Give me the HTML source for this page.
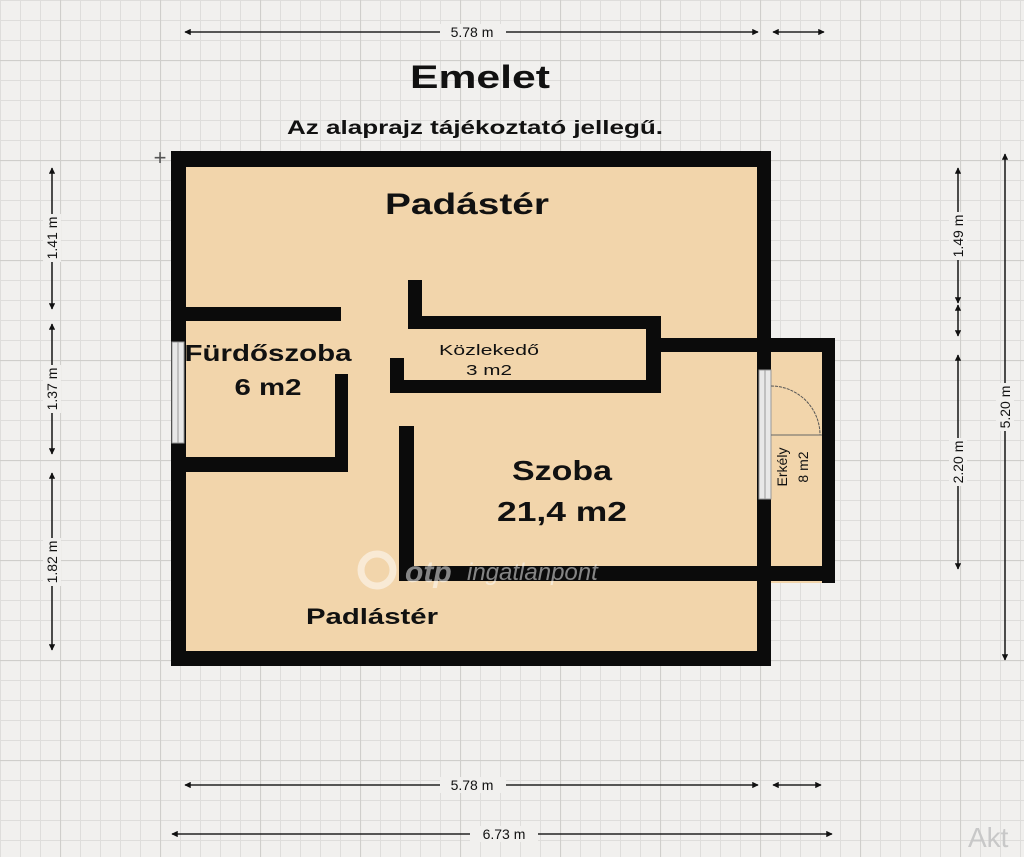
<!DOCTYPE html>
<html><head><meta charset="utf-8"><style>
html,body{margin:0;padding:0;background:#f1f0ee;}
svg{display:block;font-family:"Liberation Sans",Arial,sans-serif;}
</style></head><body>
<svg width="1024" height="857" viewBox="0 0 1024 857" xmlns="http://www.w3.org/2000/svg">
<defs>
<pattern id="mn" width="20" height="20" patternUnits="userSpaceOnUse" x="0" y="0">
<path d="M0 0.5H20M0.5 0V20" stroke="#dedddb" stroke-width="1" fill="none"/>
</pattern>
<pattern id="mj" width="100" height="100" patternUnits="userSpaceOnUse" x="60" y="60">
<path d="M0 0.5H100M0.5 0V100" stroke="#cfcecb" stroke-width="1.2" fill="none"/>
</pattern>
<marker id="a" viewBox="0 0 10 10" refX="9" refY="5" markerWidth="4" markerHeight="4" orient="auto-start-reverse"><path d="M0 0L10 5L0 10z" fill="#111"/></marker>
</defs>
<rect width="1024" height="857" fill="#f1f0ee"/>
<rect width="1024" height="857" fill="url(#mn)"/>
<rect width="1024" height="857" fill="url(#mj)"/>

<rect x="172" y="152" width="599" height="514" fill="#f2d5ab"/>
<rect x="761" y="338" width="74" height="245" fill="#f2d5ab"/>

<g fill="#0b0b0b">
<rect x="171" y="151" width="600" height="16"/>
<rect x="171" y="651" width="600" height="15"/>
<rect x="171" y="151" width="15" height="515"/>
<rect x="757" y="151" width="14" height="515"/>
<rect x="185" y="307" width="156" height="14"/>
<rect x="335" y="374" width="13" height="98"/>
<rect x="185" y="457" width="163" height="15"/>
<rect x="408" y="280" width="14" height="49"/>
<rect x="408" y="316" width="253" height="13"/>
<rect x="646" y="316" width="15" height="77"/>
<rect x="390" y="380" width="271" height="13"/>
<rect x="390" y="358" width="14" height="35"/>
<rect x="661" y="338" width="174" height="14"/>
<rect x="822" y="338" width="13" height="245"/>
<rect x="399" y="566" width="436" height="15"/>
<rect x="399" y="426" width="15" height="155"/>
</g>
<rect x="172" y="342" width="12" height="101" fill="#e8e8e8" stroke="#999" stroke-width="1"/>
<line x1="178" y1="342" x2="178" y2="443" stroke="#999"/>
<rect x="759" y="370" width="12" height="129" fill="#e8e8e8" stroke="#999" stroke-width="1"/>
<line x1="765" y1="370" x2="765" y2="499" stroke="#999"/>
<path d="M771 386 A49 49 0 0 1 820 435" fill="none" stroke="#555" stroke-width="1" stroke-dasharray="3 1"/>
<line x1="771" y1="435" x2="822" y2="435" stroke="#666" stroke-width="1"/>

<g opacity="0.5" fill="#fff">
<circle cx="377" cy="570" r="16" fill="none" stroke="#fff" stroke-width="7"/>
<text x="405" y="582" font-size="30" font-weight="bold" font-style="italic">otp</text>
<text x="467" y="580" font-size="24" font-style="italic">ingatlanpont</text>
</g>

<g fill="#111" font-weight="bold" text-anchor="middle">
<text x="480" y="88" font-size="32" textLength="140" lengthAdjust="spacingAndGlyphs">Emelet</text>
<text x="475" y="134" font-size="19" textLength="376" lengthAdjust="spacingAndGlyphs">Az alaprajz tájékoztató jellegű.</text>
<text x="467" y="214" font-size="30" textLength="164" lengthAdjust="spacingAndGlyphs">Padástér</text>
<text x="268" y="361" font-size="23" textLength="167" lengthAdjust="spacingAndGlyphs">Fürdőszoba</text>
<text x="268" y="395" font-size="23" textLength="67" lengthAdjust="spacingAndGlyphs">6 m2</text>
<text x="489" y="355" font-size="15" font-weight="normal" textLength="100" lengthAdjust="spacingAndGlyphs">Közlekedő</text>
<text x="489" y="375" font-size="15" font-weight="normal" textLength="46" lengthAdjust="spacingAndGlyphs">3 m2</text>
<text x="562" y="480" font-size="28" textLength="100" lengthAdjust="spacingAndGlyphs">Szoba</text>
<text x="562" y="521" font-size="28" textLength="130" lengthAdjust="spacingAndGlyphs">21,4 m2</text>
<text x="372" y="624" font-size="22" textLength="132" lengthAdjust="spacingAndGlyphs">Padlástér</text>
<text transform="translate(787,467) rotate(-90)" font-size="14" font-weight="normal">Erkély</text>
<text transform="translate(808,467) rotate(-90)" font-size="14" font-weight="normal">8 m2</text>
</g>
<text x="160" y="165" font-size="22" fill="#555" text-anchor="middle">+</text>

<g stroke="#222" stroke-width="1.6" fill="none">
<line x1="185" y1="32" x2="758" y2="32" marker-start="url(#a)" marker-end="url(#a)"/>
<line x1="773" y1="32" x2="824" y2="32" marker-start="url(#a)" marker-end="url(#a)"/>
<line x1="185" y1="785" x2="758" y2="785" marker-start="url(#a)" marker-end="url(#a)"/>
<line x1="773" y1="785" x2="821" y2="785" marker-start="url(#a)" marker-end="url(#a)"/>
<line x1="172" y1="834" x2="832" y2="834" marker-start="url(#a)" marker-end="url(#a)"/>
<line x1="52" y1="168" x2="52" y2="309" marker-start="url(#a)" marker-end="url(#a)"/>
<line x1="52" y1="324" x2="52" y2="454" marker-start="url(#a)" marker-end="url(#a)"/>
<line x1="52" y1="473" x2="52" y2="650" marker-start="url(#a)" marker-end="url(#a)"/>
<line x1="958" y1="168" x2="958" y2="303" marker-start="url(#a)" marker-end="url(#a)"/>
<line x1="958" y1="305" x2="958" y2="336" marker-start="url(#a)" marker-end="url(#a)"/>
<line x1="958" y1="355" x2="958" y2="569" marker-start="url(#a)" marker-end="url(#a)"/>
<line x1="1005" y1="154" x2="1005" y2="660" marker-start="url(#a)" marker-end="url(#a)"/>
</g>
<g font-size="14" fill="#111" text-anchor="middle">
<rect x="440" y="24" width="66" height="16" fill="#f1f0ee"/><text x="472" y="37">5.78 m</text>
<rect x="440" y="777" width="66" height="16" fill="#f1f0ee"/><text x="472" y="790">5.78 m</text>
<rect x="470" y="826" width="68" height="16" fill="#f1f0ee"/><text x="504" y="839">6.73 m</text>
<g transform="translate(57,238) rotate(-90)"><rect x="-24" y="-14" width="48" height="18" fill="#f1f0ee"/><text x="0" y="0">1.41 m</text></g>
<g transform="translate(57,389) rotate(-90)"><rect x="-24" y="-14" width="48" height="18" fill="#f1f0ee"/><text x="0" y="0">1.37 m</text></g>
<g transform="translate(57,562) rotate(-90)"><rect x="-24" y="-14" width="48" height="18" fill="#f1f0ee"/><text x="0" y="0">1.82 m</text></g>
<g transform="translate(963,236) rotate(-90)"><rect x="-24" y="-14" width="48" height="18" fill="#f1f0ee"/><text x="0" y="0">1.49 m</text></g>
<g transform="translate(963,462) rotate(-90)"><rect x="-24" y="-14" width="48" height="18" fill="#f1f0ee"/><text x="0" y="0">2.20 m</text></g>
<g transform="translate(1010,407) rotate(-90)"><rect x="-24" y="-14" width="48" height="18" fill="#f1f0ee"/><text x="0" y="0">5.20 m</text></g>
</g>
<text x="968" y="847" font-size="28" fill="#c8c8c8">Akt</text>
</svg>
</body></html>
